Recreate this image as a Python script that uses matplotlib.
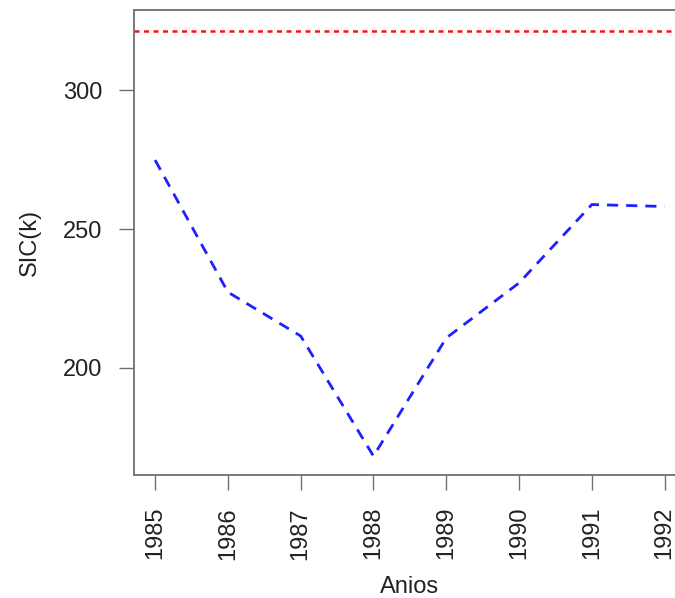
import matplotlib
matplotlib.use("Agg")
import matplotlib.pyplot as plt

# values
anios = [1985, 1986, 1987, 1988, 1989, 1990, 1991, 1992]
sic = [274.8, 227.3, 211.5, 168.3, 210.8, 230.6, 258.8, 258.1]
ref_line = 321.2
y_ticks = [200, 250, 300]

plt.rcParams['font.family'] = ['Liberation Sans', 'DejaVu Sans']

fig = plt.figure(figsize=(6.75, 5.98), dpi=100)
# the plot box runs slightly past the right edge, as in the reference
ax = fig.add_axes([134 / 675, 1 - 475 / 598, (685 - 134) / 675, (475 - 10) / 598])

ax.plot(anios, sic, color='#1f1fff', lw=2.0, dashes=(4, 2.9))
ax.axhline(ref_line, color='#ff1010', lw=1.8, dashes=(2.0, 1.8))

ax.set_xlim(1984.71, 1992.28)
ax.set_ylim(161.5, 328.8)
ax.set_xticks(anios)
ax.set_xticklabels([str(a) for a in anios], rotation=90)
ax.set_yticks(y_ticks)

for side in ['left', 'bottom', 'top', 'right']:
    ax.spines[side].set_color('#707070')
    ax.spines[side].set_linewidth(1.3)

ax.tick_params(axis='both', length=11, width=1.0, color='#707070',
               labelsize=17, labelcolor='#222222')
ax.tick_params(axis='x', pad=12)
ax.tick_params(axis='y', pad=12)

ax.set_xlabel('Anios', fontsize=17, color='#222222', labelpad=12)
ax.set_ylabel('SIC(k)', fontsize=17, color='#222222', labelpad=16)

fig.savefig('out.png', dpi=100)
